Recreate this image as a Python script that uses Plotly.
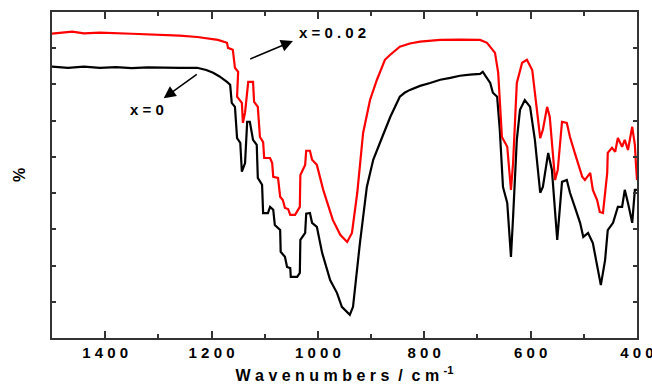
import plotly.graph_objects as go

# x = 0 (black)
wn_x0 = [1500, 1470, 1440, 1410, 1380, 1350, 1320, 1290, 1260, 1227, 1210, 1197, 1185, 1171, 1165,
         1162, 1156, 1152, 1146, 1143, 1137, 1133, 1128, 1122, 1115, 1113, 1105, 1103, 1094, 1090,
         1084, 1081, 1071, 1070, 1062, 1058, 1052, 1051, 1039, 1034, 1033, 1024, 1022, 1015, 1011,
         1002, 992, 977, 964, 955, 945, 940, 934, 921, 908, 896, 879, 864, 846, 837, 827, 808, 789,
         770, 751, 733, 714, 695, 690, 676, 671, 663, 658, 652, 644, 637, 633, 626, 620, 611, 601,
         592, 582, 577, 567, 560, 550, 541, 532, 526, 517, 507, 501, 492, 483, 473, 468, 460, 455,
         445, 436, 428, 423, 417, 409, 404, 400]
t_x0 = [7.49, 7.46, 7.49, 7.46, 7.48, 7.45, 7.47, 7.46, 7.46, 7.46, 7.40, 7.32, 7.22, 7.07, 6.99,
        6.49, 6.38, 5.52, 5.39, 4.59, 4.83, 5.97, 5.97, 5.47, 5.33, 4.42, 4.23, 3.45, 3.45, 3.62,
        3.54, 3.12, 2.98, 2.38, 2.24, 1.96, 1.93, 1.69, 1.69, 1.80, 2.71, 2.90, 3.43, 3.45, 3.18,
        3.07, 2.35, 1.60, 1.24, 0.86, 0.72, 0.64, 0.86, 2.62, 4.17, 4.92, 5.55, 6.10, 6.66, 6.77,
        6.85, 6.96, 7.04, 7.13, 7.18, 7.24, 7.27, 7.29, 7.35, 7.04, 6.77, 6.66, 5.75, 4.17, 3.73,
        2.24, 3.34, 5.47, 6.30, 6.57, 6.38, 5.47, 4.01, 4.17, 5.11, 4.64, 2.71, 4.31, 4.36, 4.01,
        3.62, 3.18, 2.79, 2.90, 2.62, 1.88, 1.46, 2.15, 2.98, 3.18, 3.62, 3.62, 4.09, 3.73, 3.18,
        4.09, 4.09]

# x = 0.02 (red)
wn_x02 = [1500, 1462, 1440, 1410, 1350, 1300, 1260, 1227, 1188, 1171, 1169, 1160, 1156, 1150,
          1152, 1143, 1141, 1137, 1131, 1122, 1120, 1113, 1109, 1103, 1101, 1090, 1086, 1084, 1075,
          1071, 1066, 1062, 1056, 1052, 1043, 1034, 1033, 1024, 1022, 1015, 1011, 1002, 990, 972,
          958, 945, 936, 926, 915, 902, 889, 874, 864, 846, 827, 808, 770, 733, 695, 682, 667, 661,
          654, 644, 637, 633, 626, 616, 607, 597, 588, 582, 577, 569, 564, 554, 549, 541, 532, 526,
          517, 511, 503, 498, 488, 483, 475, 470, 464, 456, 455, 447, 441, 436, 428, 423, 417, 409,
          404, 402, 400]
t_x02 = [8.40, 8.46, 8.41, 8.43, 8.40, 8.38, 8.35, 8.31, 8.23, 8.15, 8.01, 7.96, 7.46, 7.35,
         6.66, 6.49, 5.94, 6.22, 7.07, 7.07, 6.52, 6.38, 5.55, 5.41, 4.97, 4.97, 4.83, 4.45, 4.42,
         3.90, 3.81, 3.59, 3.56, 3.40, 3.40, 3.62, 4.50, 4.78, 5.17, 5.17, 4.92, 4.78, 4.09, 3.26,
         2.85, 2.65, 2.90, 4.01, 5.66, 6.57, 7.13, 7.68, 7.82, 8.04, 8.13, 8.18, 8.23, 8.24, 8.23,
         8.15, 7.87, 7.32, 5.55, 5.28, 4.09, 4.83, 7.04, 7.60, 7.68, 7.40, 6.22, 5.52, 5.75, 6.38,
         6.10, 4.36, 4.64, 5.97, 5.94, 5.55, 5.11, 4.83, 4.45, 4.36, 4.56, 4.09, 3.81, 3.48, 3.45,
         4.56, 5.11, 5.25, 5.14, 5.52, 5.28, 5.47, 5.19, 5.83, 5.33, 4.80, 4.36]

x_tickvals = [1400, 1200, 1000, 800, 600, 400]
x_ticktext = ["1 4 0 0", "1 2 0 0", "1 0 0 0", "8 0 0", "6 0 0", "4 0 0"]

FONT = "Arial, Liberation Sans, sans-serif"

fig = go.Figure()
fig.add_trace(go.Scatter(x=wn_x0, y=t_x0, mode="lines",
                         line=dict(color="#000000", width=2.2), showlegend=False))
fig.add_trace(go.Scatter(x=wn_x02, y=t_x02, mode="lines",
                         line=dict(color="#ff0000", width=2.2), showlegend=False))

# arrows (tail text is an invisible tiny dot)
arrow_font = dict(family=FONT, size=2, color="rgba(0,0,0,0)")
fig.add_annotation(x=1047, y=8.20, ax=1131, ay=7.68, xref="x", yref="y", axref="x", ayref="y",
                   showarrow=True, arrowhead=2, arrowsize=1.6, arrowwidth=1.5, arrowcolor="#000",
                   text=".", font=arrow_font)
fig.add_annotation(x=1290, y=6.62, ax=1224, ay=7.32, xref="x", yref="y", axref="x", ayref="y",
                   showarrow=True, arrowhead=2, arrowsize=1.6, arrowwidth=1.5, arrowcolor="#000",
                   text=".", font=arrow_font)
fig.add_annotation(x=973, y=8.43, xref="x", yref="y", showarrow=False,
                   text="<b>x = 0 . 0 2</b>", font=dict(family=FONT, size=15, color="#000"))
fig.add_annotation(x=1321, y=6.30, xref="x", yref="y", showarrow=False,
                   text="<b>x = 0</b>", font=dict(family=FONT, size=15, color="#000"))

fig.update_layout(
    width=652, height=390,
    margin=dict(l=52, r=15, t=12, b=52, autoexpand=False),
    paper_bgcolor="white", plot_bgcolor="white",
    font=dict(family=FONT, color="#000"),
    xaxis=dict(
        range=[1500, 400], autorange=False, automargin=False,
        tickmode="array", tickvals=x_tickvals, ticktext=x_ticktext,
        ticklabeloverflow="allow",
        ticks="inside", ticklen=7, tickwidth=1.5, tickcolor="#333",
        minor=dict(ticks="inside", ticklen=4, tickwidth=1.5, tickcolor="#333", dtick=100, tick0=0),
        showline=True, linecolor="#333", linewidth=2, mirror="ticks",
        showgrid=False, zeroline=False,
        tickfont=dict(family=FONT, size=15, color="#000", weight="bold"),
        title=dict(text="<b>W a v e n u m b e r s  /  c m <sup>-1</sup></b>",
                   font=dict(family=FONT, size=16, color="#000"), standoff=10),
    ),
    yaxis=dict(
        range=[0, 9], autorange=False, dtick=1, tick0=0, automargin=False,
        ticks="inside", ticklen=4, tickwidth=1.5, tickcolor="#333",
        showticklabels=False,
        showline=True, linecolor="#333", linewidth=2, mirror="ticks",
        showgrid=False, zeroline=False,
        title=dict(text="<b>%</b>", font=dict(family=FONT, size=16, color="#000"), standoff=20),
    ),
)

fig.write_html("out.html")
